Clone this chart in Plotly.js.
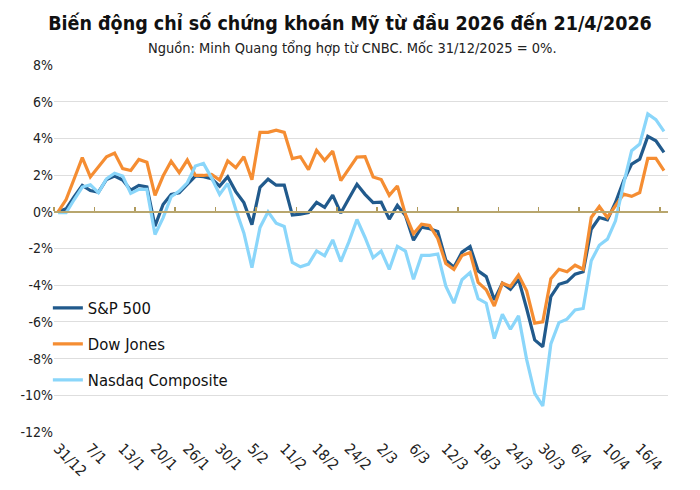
<!DOCTYPE html>
<html>
<head>
<meta charset="utf-8">
<script src="https://cdn.plot.ly/plotly-3.0.1.min.js"></script>
<style>html,body{margin:0;padding:0;background:#fff;}#chart{width:700px;height:490px;}</style>
</head>
<body>
<div id="chart"></div>
<script>
const dates = ["31/12","2/1","5/1","6/1","7/1","8/1","9/1","12/1","13/1","14/1","15/1","16/1",
"20/1","21/1","22/1","23/1","26/1","27/1","28/1","29/1","30/1","2/2","3/2","4/2","5/2","6/2",
"9/2","10/2","11/2","12/2","13/2","17/2","18/2","19/2","20/2","23/2","24/2","25/2","26/2","27/2",
"2/3","3/3","4/3","5/3","6/3","9/3","10/3","11/3","12/3","13/3","16/3","17/3","18/3","19/3","20/3",
"23/3","24/3","25/3","26/3","27/3","30/3","31/3","1/4","2/4","6/4","7/4","8/4","9/4","10/4",
"13/4","14/4","15/4","16/4","17/4","20/4","21/4"];

const sp500 = [0,0.16,0.82,1.44,1.16,1.07,1.76,1.95,1.73,1.18,1.44,1.36,
-0.78,0.4,0.95,1.04,1.49,1.95,1.91,1.8,1.4,1.91,1.1,0.5,-0.7,1.33,
1.78,1.45,1.45,-0.18,-0.13,-0.04,0.51,0.24,0.91,-0.07,0.73,1.5,0.95,0.5,
0.52,-0.4,0.35,-0.2,-1.55,-0.84,-0.92,-1.07,-2.64,-3.02,-2.2,-1.89,-3.22,-3.53,-4.8,
-3.89,-4.22,-3.67,-5.27,-6.98,-7.35,-4.62,-3.95,-3.82,-3.4,-3.27,-0.95,-0.31,-0.44,
0.51,1.69,2.6,2.87,4.11,3.87,3.24];

const dowJones = [0,0.67,1.8,2.95,1.9,2.45,3.0,3.2,2.35,2.25,2.85,2.7,
0.9,1.95,2.75,2.13,2.82,1.98,1.98,2.04,1.73,2.78,2.4,3.0,1.75,4.33,
4.33,4.45,4.33,2.9,3.0,2.3,3.35,2.8,3.31,1.7,2.38,2.98,3.0,1.9,
1.76,0.9,1.41,-0.14,-1.2,-0.68,-0.75,-1.45,-2.82,-3.14,-2.38,-2.22,-3.85,-4.25,-5.13,
-3.89,-4.07,-3.45,-4.31,-6.07,-6.0,-3.65,-3.13,-3.27,-2.91,-3.13,-0.31,0.29,-0.31,
0.36,0.96,0.84,1.05,2.91,2.91,2.24];

const nasdaq = [-0.05,-0.05,0.67,1.35,1.47,1.04,1.8,2.1,1.95,1.0,1.22,1.22,
-1.24,-0.33,0.82,1.13,1.58,2.49,2.64,1.85,0.95,1.55,0.13,-1.15,-3.04,-0.85,
0.0,-0.62,-0.8,-2.76,-3.0,-2.85,-2.13,-2.4,-1.53,-2.71,-1.64,-0.42,-1.4,-2.5,
-2.14,-3.14,-1.88,-2.14,-3.68,-2.37,-2.37,-2.3,-4.05,-4.98,-3.7,-3.31,-4.73,-4.98,-6.91,
-5.58,-6.4,-5.67,-8.04,-9.89,-10.58,-7.2,-6.04,-5.85,-5.35,-5.27,-2.67,-1.82,-1.49,
-0.49,1.51,3.33,3.69,5.33,5.02,4.38];

const seriesNames = ["S&P 500","Dow Jones","Nasdaq Composite"];
const xTickLabels = ["31/12","7/1","13/1","20/1","26/1","30/1","5/2","11/2","18/2","24/2",
"2/3","6/3","12/3","18/3","24/3","30/3","6/4","10/4","16/4"];
const yTickVals = [8,6,4,2,0,-2,-4,-6,-8,-10,-12];
const yTickText = ["8%","6%","4%","2%","0%","-2%","-4%","-6%","-8%","-10%","-12%"];

const FONT = "DejaVu Sans Condensed, DejaVu Sans, sans-serif";
const colors = ["#215a8c","#f58d32","#8ad6fa"];
const values = [sp500, dowJones, nasdaq];

const traces = values.map((v,k)=>({
  type:"scatter", mode:"lines", x:dates, y:v, name:seriesNames[k],
  line:{color:colors[k], width:3.2}, legendgroup:"g"+k, hoverinfo:"x+y+name"
}));
// helper (empty) trace so the zero-crossing category axis gets drawn
traces.unshift({type:"scatter", mode:"lines", x:[0], y:[null], xaxis:"x2", yaxis:"y",
  showlegend:false, hoverinfo:"skip"});

const layout = {
  width:700, height:490,
  margin:{l:54, r:32, t:65, b:58},
  paper_bgcolor:"#fff", plot_bgcolor:"#fff",
  font:{family:FONT, color:"#222"},
  title:{text:"<b>Biến động chỉ số chứng khoán Mỹ từ đầu 2026 đến 21/4/2026</b>",
    x:0.5, xanchor:"center", y:0.953, yanchor:"middle", yref:"container",
    font:{family:FONT, size:19.5, color:"#111"}},
  annotations:[{text:"Nguồn: Minh Quang tổng hợp từ CNBC. Mốc 31/12/2025 = 0%.",
    xref:"paper", yref:"paper", x:(352-54)/614, y:(432-48)/367, xanchor:"center", yanchor:"middle",
    showarrow:false, font:{family:FONT, size:14.5, color:"#222"}}],
  showlegend:true,
  legend:{x:-0.01, xanchor:"left", y:0.385, yanchor:"top", bgcolor:"rgba(255,255,255,0)",
    font:{family:FONT, size:16.5, color:"#111"}, tracegroupgap:11.5, traceorder:"grouped"},
  xaxis:{type:"category", categoryorder:"array", categoryarray:dates,
    range:[-0.5, dates.length-0.5],
    tickmode:"array", tickvals:xTickLabels, ticktext:xTickLabels,
    tickangle:45, showgrid:false, showline:false, ticks:"", zeroline:false, ticklabelstandoff:4,
    tickfont:{family:FONT, size:15, color:"#222"}, fixedrange:true},
  xaxis2:{type:"linear", overlaying:"x", anchor:"free", position:0.6, side:"top",
    range:[-0.5, dates.length-0.5], tickmode:"linear", tick0:-0.5, dtick:5,
    showticklabels:false, ticks:"outside", ticklen:4, tickwidth:1.5, tickcolor:"#b09a5c",
    showline:true, linecolor:"#b8a66e", linewidth:2, showgrid:false, zeroline:false, fixedrange:true},
  yaxis:{range:[-12,8], tickmode:"array", tickvals:yTickVals, ticktext:yTickText,
    showgrid:true, gridcolor:"#dedede", gridwidth:1, zeroline:false, showline:false,
    ticks:"", ticklen:0, tickfont:{family:FONT, size:14, color:"#222"}, fixedrange:true}
};

Plotly.newPlot("chart", traces, layout, {displayModeBar:false, staticPlot:true});
</script>
</body>
</html>
